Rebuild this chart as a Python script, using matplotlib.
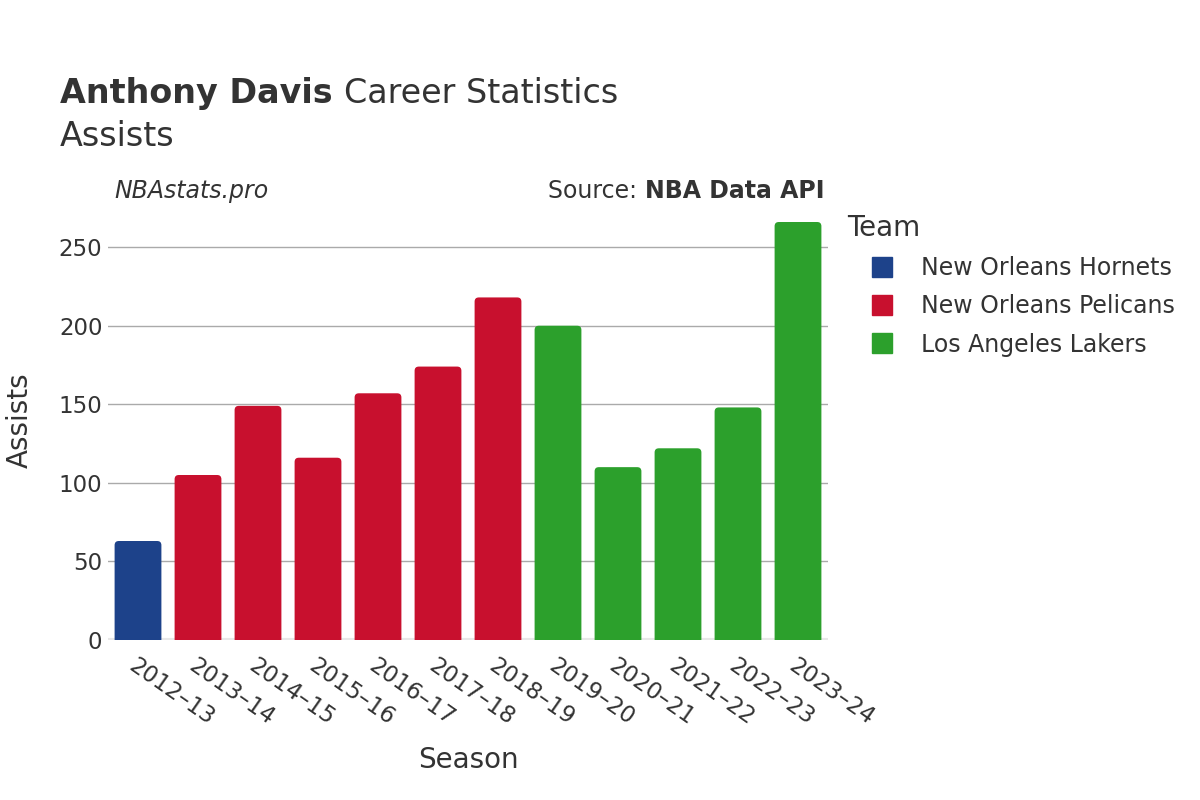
import matplotlib.pyplot as plt
from matplotlib.lines import Line2D
from matplotlib.patches import FancyBboxPatch

# Data
seasons = ["2012-13", "2013-14", "2014-15", "2015-16", "2016-17", "2017-18",
           "2018-19", "2019-20", "2020-21", "2021-22", "2022-23", "2023-24"]
assists = [63, 105, 149, 116, 157, 174, 218, 200, 110, 122, 148, 266]
teams = ["New Orleans Hornets"] + ["New Orleans Pelicans"] * 6 + ["Los Angeles Lakers"] * 5

team_names = ["New Orleans Hornets", "New Orleans Pelicans", "Los Angeles Lakers"]
team_colors = {"New Orleans Hornets": "#1d428a",
               "New Orleans Pelicans": "#c8102e",
               "Los Angeles Lakers": "#2ca02c"}

plt.rcParams['font.family'] = ['DejaVu Sans']
text_color = "#333333"

fig = plt.figure(figsize=(12, 8), dpi=100)
ax = fig.add_axes([0.09, 0.2, 0.60, 0.55])

x = list(range(len(seasons)))
colors = [team_colors[t] for t in teams]
bars = ax.bar(x, assists, width=0.78, color=colors, zorder=3)

ax.set_xlim(-0.5, len(seasons) - 0.5)
ax.set_ylim(0, 280)

# swap plain bars for ones with slightly rounded corners
for rect, c in zip(bars, colors):
    x0, w, h = rect.get_x(), rect.get_width(), rect.get_height()
    rect.remove()
    ax.add_patch(FancyBboxPatch((x0, -6), w, h + 6,
                                boxstyle="round,pad=0,rounding_size=0.07",
                                mutation_aspect=38, facecolor=c,
                                edgecolor="none", zorder=3))

ax.set_yticks([0, 50, 100, 150, 200, 250])
ax.grid(axis="y", color="#aaaaaa", linewidth=1, zorder=0)
ax.axhline(0, color="#e8e8e8", linewidth=3, zorder=2)
for s in ax.spines.values():
    s.set_visible(False)
ax.tick_params(axis="both", length=0, labelsize=16.5, labelcolor=text_color)
ax.tick_params(axis="y", pad=4)

ax.set_xticks(x)
ax.set_xticklabels([s.replace("-", "–") for s in seasons], rotation=-35,
                   ha="left", va="top", rotation_mode="anchor")
ax.tick_params(axis="x", pad=10)

ax.set_xlabel("Season", fontsize=20, color=text_color, labelpad=12)
ax.set_ylabel("Assists", fontsize=20, color=text_color, labelpad=18)

# Titles
fig.canvas.draw()
renderer = fig.canvas.get_renderer()
t1 = fig.text(0.05, 0.871, "Anthony Davis ", fontsize=24, fontweight="bold", color=text_color)
bb = t1.get_window_extent(renderer)
fig.text(bb.x1 / 1200, 0.871, "Career Statistics", fontsize=24, color=text_color)
fig.text(0.05, 0.818, "Assists", fontsize=24, color=text_color)

fig.text(0.095, 0.752, "NBAstats.pro", fontsize=17, style="italic", color=text_color)
t2 = fig.text(0.687, 0.752, "NBA Data API", fontsize=17, fontweight="bold",
              color=text_color, ha="right")
bb2 = t2.get_window_extent(renderer)
fig.text(bb2.x0 / 1200, 0.752, "Source: ", fontsize=17, color=text_color, ha="right")

handles = [Line2D([0], [0], marker="s", linestyle="", markersize=15,
                  markerfacecolor=team_colors[t], markeredgecolor=team_colors[t])
           for t in team_names]
leg = fig.legend(handles, team_names, title="Team", loc="upper left",
                 bbox_to_anchor=(0.688, 0.759), frameon=False, fontsize=17,
                 title_fontsize=20, labelcolor=text_color, handletextpad=0.2,
                 labelspacing=0.6, handlelength=2.96)
leg.get_title().set_color(text_color)
leg._legend_box.align = "left"

fig.savefig("out.png", dpi=100, facecolor="white")
